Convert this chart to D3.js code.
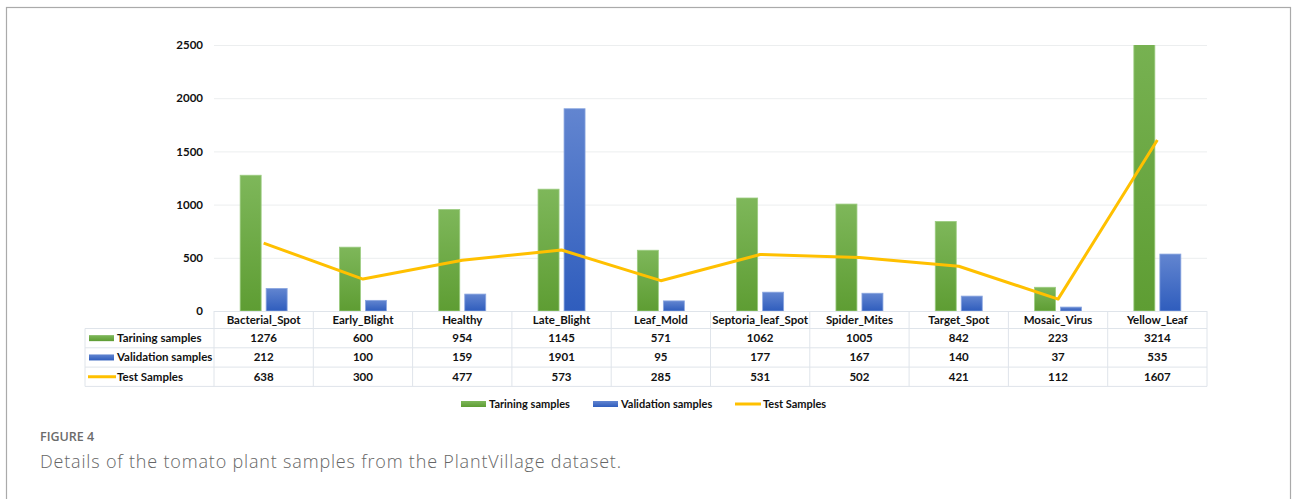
<!DOCTYPE html>
<html><head><meta charset="utf-8">
<script src="https://cdn.jsdelivr.net/npm/d3@7"></script>
<style>
body{margin:0;background:#fff;}
svg{display:block;}
</style></head>
<body><svg id="chart" width="1292" height="499"></svg>
<script>
const categories = ["Bacterial_Spot","Early_Blight","Healthy","Late_Blight","Leaf_Mold","Septoria_leaf_Spot","Spider_Mites","Target_Spot","Mosaic_Virus","Yellow_Leaf"];
const training = [1276,600,954,1145,571,1062,1005,842,223,3214];
const validation = [212,100,159,1901,95,177,167,140,37,535];
const test = [638,300,477,573,285,531,502,421,112,1607];
const seriesNames = ["Tarining samples","Validation samples","Test Samples"];
const yTicks = [0,500,1000,1500,2000,2500];

(function(){
const svg = d3.select("#chart");
const font = "Lato, 'Open Sans', sans-serif";
const pL = 214, pR = 1207, pT = 45, pB = 311;

// frame
svg.append("rect").attr("x",6.5).attr("y",7.5).attr("width",1284).attr("height",520)
  .attr("fill","none").attr("stroke","#aaaaaa").attr("stroke-width",1.2);

const x = d3.scaleBand().domain(categories).range([pL,pR]).paddingInner(0).paddingOuter(0);
const y = d3.scaleLinear().domain([0,2500]).range([pB,pT]);

const defs = svg.append("defs");
const gG = defs.append("linearGradient").attr("id","gG").attr("x1",0).attr("y1",0).attr("x2",0).attr("y2",1);
gG.append("stop").attr("offset","0%").attr("stop-color","#7eb75a");
gG.append("stop").attr("offset","100%").attr("stop-color","#5e9d33");
const gB = defs.append("linearGradient").attr("id","gB").attr("x1",0).attr("y1",0).attr("x2",0).attr("y2",1);
gB.append("stop").attr("offset","0%").attr("stop-color","#6285d0");
gB.append("stop").attr("offset","100%").attr("stop-color","#2f5dbd");
defs.append("clipPath").attr("id","plotClip").append("rect")
  .attr("x",pL).attr("y",pT).attr("width",pR-pL).attr("height",pB-pT);

// gridlines
const yAxis = d3.axisLeft(y).tickValues(yTicks).tickSize(-(pR-pL)).tickPadding(11).tickFormat(d3.format("d"));
const ga = svg.append("g").attr("transform",`translate(${pL},0)`).call(yAxis);
ga.select(".domain").remove();
ga.selectAll(".tick line").attr("stroke","#eceeef").attr("stroke-width",1);
ga.selectAll(".tick text").attr("font-family",font).attr("font-weight","bold").attr("font-size","11.5px").attr("fill","#111");

// bars
const bw = 21, gap = 5;
const plot = svg.append("g").attr("clip-path","url(#plotClip)");
plot.selectAll("rect.tr").data(categories).enter().append("rect")
  .attr("x",(d)=>x(d)+x.bandwidth()/2 - gap/2 - bw)
  .attr("y",(d,i)=>y(training[i])).attr("width",bw)
  .attr("height",(d,i)=>pB - y(training[i]))
  .attr("fill","url(#gG)").attr("stroke","#9ccc80").attr("stroke-width",0.8);
plot.selectAll("rect.va").data(categories).enter().append("rect")
  .attr("x",(d)=>x(d)+x.bandwidth()/2 + gap/2)
  .attr("y",(d,i)=>y(validation[i])).attr("width",bw)
  .attr("height",(d,i)=>pB - y(validation[i]))
  .attr("fill","url(#gB)").attr("stroke","#8aa6e0").attr("stroke-width",0.8);

// line
const line = d3.line().x((d,i)=>x(categories[i])+x.bandwidth()/2).y(d=>y(d));
svg.append("path").datum(test).attr("d",line).attr("fill","none")
  .attr("stroke","#ffc000").attr("stroke-width",3).attr("stroke-linejoin","round");

// data table
const rowH = 19.3, hdrTop = 311, hdrH = 17.5;
const rowTop = hdrTop + hdrH;
const tableLeft = 85;
const lc = "#dfe4ea";
const tg = svg.append("g");
tg.append("line").attr("x1",pL).attr("x2",pR).attr("y1",hdrTop+0.5).attr("y2",hdrTop+0.5).attr("stroke",lc);
for(let r=0;r<=3;r++){
  const yy = rowTop + r*rowH;
  tg.append("line").attr("x1",tableLeft).attr("x2",pR).attr("y1",yy).attr("y2",yy).attr("stroke",lc);
}
tg.append("line").attr("x1",tableLeft).attr("x2",tableLeft).attr("y1",rowTop).attr("y2",rowTop+3*rowH).attr("stroke",lc);
categories.forEach(c=>{
  tg.append("line").attr("x1",x(c)).attr("x2",x(c)).attr("y1",hdrTop).attr("y2",rowTop+3*rowH).attr("stroke",lc);
});
tg.append("line").attr("x1",pR).attr("x2",pR).attr("y1",hdrTop).attr("y2",rowTop+3*rowH).attr("stroke",lc);
tg.selectAll("text.hdr").data(categories).enter().append("text")
  .attr("x",d=>x(d)+x.bandwidth()/2).attr("y",hdrTop+hdrH/2+4)
  .attr("text-anchor","middle").attr("font-family",font).attr("font-weight","bold").attr("font-size","11.5px").attr("fill","#111")
  .text(d=>d);
const rows = [training,validation,test];
rows.forEach((vals,r)=>{
  const cy = rowTop + r*rowH + rowH/2;
  tg.selectAll("text.v"+r).data(vals).enter().append("text")
    .attr("x",(d,i)=>x(categories[i])+x.bandwidth()/2).attr("y",cy+4)
    .attr("text-anchor","middle").attr("font-family",font).attr("font-weight","bold").attr("font-size","11.5px").attr("fill","#111")
    .text(d=>d);
  if(r<2){
    tg.append("rect").attr("x",89).attr("y",cy-3).attr("width",25).attr("height",6)
      .attr("fill", r===0 ? "url(#gG)" : "url(#gB)");
  } else {
    tg.append("line").attr("x1",88).attr("x2",116).attr("y1",cy).attr("y2",cy).attr("stroke","#ffc000").attr("stroke-width",3);
  }
  tg.append("text").attr("x",117).attr("y",cy+4).attr("font-family",font).attr("font-weight","bold").attr("font-size","11.5px").attr("fill","#111")
    .text(seriesNames[r]);
});

// legend
const lg = svg.append("g");
const ly = 404;
const legendItems = [{x:461,type:"g"},{x:593,type:"b"},{x:735,type:"l"}];
legendItems.forEach((it,i)=>{
  if(it.type==="l"){
    lg.append("line").attr("x1",it.x).attr("x2",it.x+26).attr("y1",ly).attr("y2",ly).attr("stroke","#ffc000").attr("stroke-width",3);
  } else {
    lg.append("rect").attr("x",it.x).attr("y",ly-3).attr("width",25).attr("height",6).attr("fill",it.type==="g"?"url(#gG)":"url(#gB)");
  }
  lg.append("text").attr("x",it.x+28).attr("y",ly+4).attr("font-family",font).attr("font-weight","bold").attr("font-size","11px").attr("fill","#111")
    .text(seriesNames[i]);
});

// caption
svg.append("text").attr("x",40).attr("y",441).attr("font-family","'Open Sans', sans-serif").attr("font-weight","600").attr("font-size","12.5px").attr("fill","#6b6b6b").text("FIGURE 4");
svg.append("text").attr("x",40).attr("y",468).attr("font-family","'Open Sans', sans-serif").attr("font-weight","300").attr("font-size","18px").attr("fill","#666")
  .attr("textLength",581).attr("lengthAdjust","spacing")
  .text("Details of the tomato plant samples from the PlantVillage dataset.");
})();
</script>
</body></html>
